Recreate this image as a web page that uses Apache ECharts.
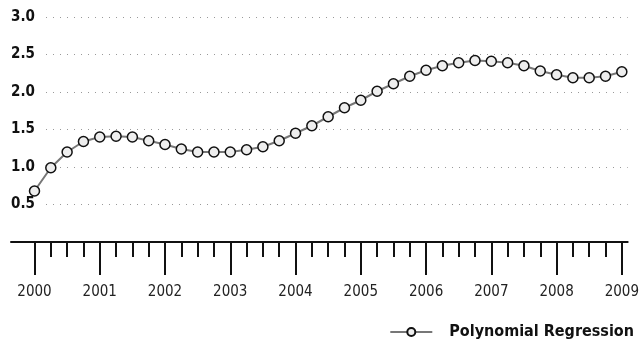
<!DOCTYPE html>
<html><head><meta charset="utf-8">
<script src="https://cdn.jsdelivr.net/npm/echarts@6/dist/echarts.min.js"></script>
<style>html,body{margin:0;padding:0;background:#fff}#c{width:642px;height:344px}</style>
</head><body><div id="c"></div>
<script>
// Quarterly time positions (years) and values
const years = [2000,2001,2002,2003,2004,2005,2006,2007,2008,2009];
const quarters = [];
for (let y = 2000; y <= 2009; y++) { for (const q of [0,0.25,0.5,0.75]) { if (y + q <= 2009) quarters.push(y + q); } }
const values = [0.68,0.99,1.20,1.34,1.40,1.41,1.40,1.35,1.30,1.24,1.20,1.20,1.20,1.23,1.27,1.35,1.45,1.55,1.67,1.79,1.89,2.01,2.11,2.21,2.29,2.35,2.39,2.42,2.41,2.39,2.35,2.28,2.23,2.19,2.19,2.21,2.27];
const yTicks = [0.5,1.0,1.5,2.0,2.5,3.0];
const seriesName = 'Polynomial Regression';

const fontFam = '"Liberation Sans Narrow","DejaVu Sans Condensed","Roboto Condensed",sans-serif';
const xMin = 1999.64, xMax = 2009.09;
const chart = echarts.init(document.getElementById('c'));
chart.setOption({
  animation: false,
  grid: {left: 11, right: 8, top: 17, bottom: 102},
  xAxis: [{
    type: 'value', min: xMin, max: xMax, position: 'bottom',
    axisLine: {show: true, lineStyle: {color: '#111', width: 2}},
    axisTick: {show: true, customValues: quarters, length: 15, lineStyle: {color: '#111', width: 2}},
    axisLabel: {show: false},
    splitLine: {show: false}
  }, {
    type: 'value', min: xMin, max: xMax, position: 'bottom', offset: 0,
    axisLine: {show: false},
    axisTick: {show: true, customValues: years, length: 33, lineStyle: {color: '#111', width: 2}},
    axisLabel: {show: true, customValues: years, margin: 43, color: '#222', fontSize: 15, fontFamily: fontFam,
      formatter: v => String(Math.round(v))},
    splitLine: {show: false}
  }],
  yAxis: {
    type: 'value', min: 0, max: 3, interval: 0.5,
    axisLine: {show: false}, axisTick: {show: false},
    axisLabel: {inside: true, margin: 0, color: '#111', fontSize: 15, fontWeight: 'bold', fontFamily: fontFam,
      backgroundColor: '#fff', padding: [0, 6, 0, 0],
      formatter: v => v === 0 ? '' : v.toFixed(1)},
    splitLine: {show: true, lineStyle: {color: '#999', type: [1, 6], width: 1}}
  },
  legend: {
    right: 3, top: 319, itemWidth: 42, itemHeight: 10, itemGap: 12,
    textStyle: {fontSize: 16, fontWeight: 'bold', color: '#111', fontFamily: fontFam, padding: [0, 0, 0, 12]},
    data: [seriesName]
  },
  series: [{
    name: seriesName, type: 'line', xAxisIndex: 0,
    data: quarters.map((q, i) => [q, values[i]]),
    symbol: 'circle', symbolSize: 10,
    lineStyle: {color: '#777', width: 2},
    itemStyle: {color: '#eee', borderColor: '#111', borderWidth: 1.5}
  }]
});
</script></body></html>
